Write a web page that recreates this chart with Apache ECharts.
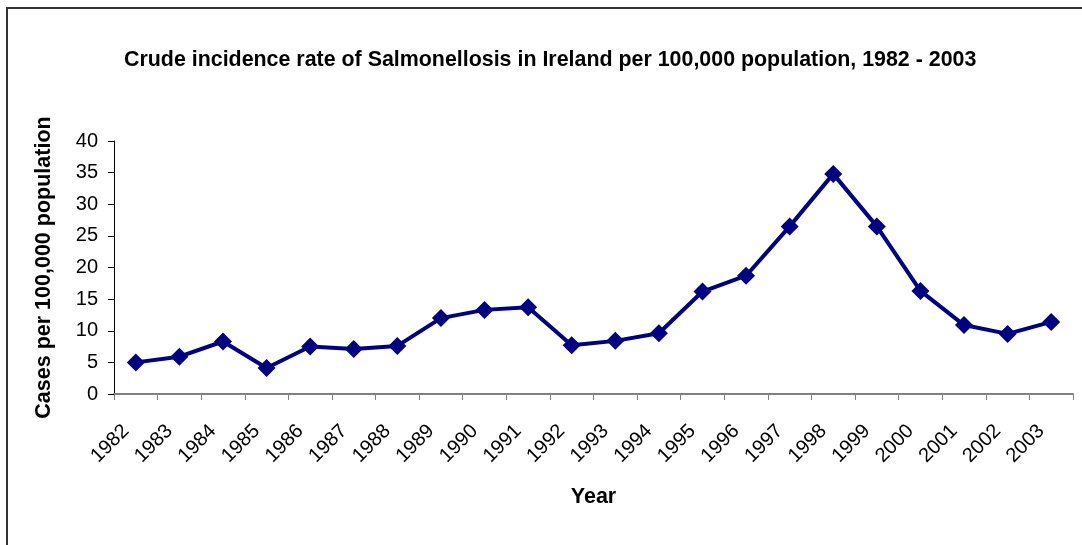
<!DOCTYPE html>
<html>
<head>
<meta charset="utf-8">
<script src="https://cdn.jsdelivr.net/npm/echarts@6/dist/echarts.min.js"></script>
<style>
html,body{margin:0;padding:0;background:#fff;}
#chart{width:1082px;height:545px;}
</style>
</head>
<body>
<div id="chart"></div>
<script>
const years = ['1982','1983','1984','1985','1986','1987','1988','1989','1990','1991','1992','1993','1994','1995','1996','1997','1998','1999','2000','2001','2002','2003'];
const rates = [5.0, 5.9, 8.3, 4.1, 7.5, 7.1, 7.6, 12.0, 13.3, 13.7, 7.7, 8.4, 9.6, 16.2, 18.7, 26.5, 34.8, 26.5, 16.3, 10.9, 9.5, 11.4];
const yTicks = { min: 0, max: 40, interval: 5 };
const titleText = 'Crude incidence rate of Salmonellosis in Ireland per 100,000 population, 1982 - 2003';
const yName = 'Cases per 100,000 population';
const xName = 'Year';

const font = 'Liberation Sans, Arial, sans-serif';
const chart = echarts.init(document.getElementById('chart'), null, {renderer: 'canvas'});
chart.setOption({
  animation: false,
  backgroundColor: '#fff',
  title: {
    text: titleText,
    left: 119,
    top: 45,
    textStyle: {fontFamily: font, fontSize: 21.4, fontWeight: 'bold', color: '#000'}
  },
  graphic: [{
    type: 'rect',
    shape: {x: 7, y: 8, width: 1200, height: 700},
    style: {fill: 'none', stroke: '#333', lineWidth: 2},
    silent: true
  }],
  grid: {left: 114, right: 9, top: 141, bottom: 151, containLabel: false},
  xAxis: {
    type: 'category',
    data: years,
    boundaryGap: true,
    name: xName,
    nameLocation: 'middle',
    nameGap: 92,
    nameTextStyle: {fontFamily: font, fontSize: 21.5, fontWeight: 'bold', color: '#000'},
    axisLine: {show: true, lineStyle: {color: '#808080', width: 2}},
    axisTick: {show: true, inside: false, length: 6, interval: 0, alignWithLabel: false, lineStyle: {color: '#808080', width: 1}},
    axisLabel: {interval: 0, rotate: 45, margin: 24, padding: [0, 14, 0, 0], fontFamily: font, fontSize: 20, color: '#000'},
    splitLine: {show: false}
  },
  yAxis: {
    type: 'value',
    min: yTicks.min,
    max: yTicks.max,
    interval: yTicks.interval,
    name: yName,
    nameLocation: 'middle',
    nameGap: 59,
    nameRotate: 90,
    nameTextStyle: {fontFamily: font, fontSize: 21.5, fontWeight: 'bold', color: '#000'},
    axisLine: {show: true, lineStyle: {color: '#000', width: 1}},
    axisTick: {show: true, inside: false, length: 6, lineStyle: {color: '#000', width: 1}},
    axisLabel: {margin: 16, fontFamily: font, fontSize: 20, color: '#000'},
    splitLine: {show: false}
  },
  series: [{
    type: 'line',
    data: rates,
    symbol: 'diamond',
    symbolSize: 18,
    lineStyle: {color: '#000080', width: 4},
    itemStyle: {color: '#000080'},
    z: 5
  }]
});
</script>
</body>
</html>
